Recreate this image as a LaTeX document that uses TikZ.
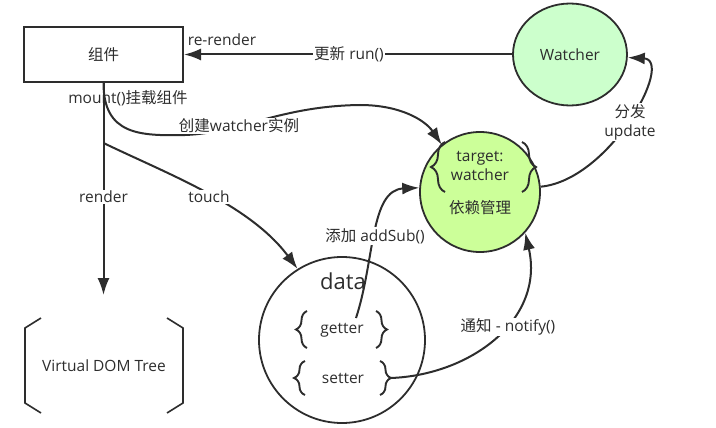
\documentclass[tikz,border=0pt]{standalone}
\usepackage{fontspec}
\setmainfont{Open Sans}
\newfontfamily\zhfont{Noto Sans CJK SC}
\usepackage{tikz}
\definecolor{inkgray}{RGB}{45,45,45}
\definecolor{watchgreen}{RGB}{204,255,204}
\definecolor{depgreen}{RGB}{204,255,153}
\usetikzlibrary{arrows.meta}
\usetikzlibrary{shapes.geometric}
\usetikzlibrary{decorations.pathreplacing}
\tikzset{line/.style={inkgray,line width=2pt,>={Latex[length=17pt,width=12pt]}}}
\tikzset{box/.style={rectangle,draw=inkgray,line width=2pt,minimum width=159pt,minimum height=55pt}}
\tikzset{ball/.style={circle,draw=inkgray,line width=1.8pt,inner sep=0pt}}
\tikzset{lbl/.style={fill=white,inner sep=1pt}}
\tikzset{txt/.style={inner sep=1pt}}
\tikzset{curly/.style={inkgray,line width=1.9pt,decorate,decoration={brace,amplitude=#1}}}
\tikzset{bracket/.style={inkgray,line width=1.6pt}}

\begin{document}
\begin{tikzpicture}[x=1pt,y=-1pt,every node/.style={font=\fontsize{15.5}{19}\selectfont,text=inkgray}]
  \useasboundingbox (0,0) rectangle (716,428);

  % Nodes
  \node[box] (comp) at (103.5,54.5) {\zhfont 组件};
  \node[ellipse,draw=inkgray,line width=1.8pt,fill=watchgreen,minimum width=114pt,minimum height=102pt] (watcher) at (570,54.5) {Watcher};
  \node[ball,fill=depgreen,minimum size=120pt] (dep) at (480,192) {};
  \node[txt,align=center] (target) at (480,166) {target:\\watcher};
  \node[txt] (deplbl) at (480,208) {\zhfont 依赖管理};
  \node[ball,minimum size=166pt] (data) at (342,340) {};
  \node[txt,font=\fontsize{22}{26}\selectfont] (datalbl) at (343,281) {data};
  \node[txt] (getter) at (342,330) {getter};
  \node[txt] (setter) at (343,378) {setter};
  \node[txt,minimum width=158pt,minimum height=95pt] (vdom) at (104,365.5) {Virtual DOM Tree};

  % Braces
  \draw[curly=14] (445,192) -- (445,142);
  \draw[curly=14] (522,142) -- (522,192);
  \draw[curly=11] (307,348) -- (307,311);
  \draw[curly=11] (376,311) -- (376,348);
  \draw[curly=11] (305,395) -- (305,361);
  \draw[curly=11] (380,361) -- (380,395);

  % Brackets
  \draw[bracket] (41,318) -- (25,328) -- (25,403) -- (41,413);
  \draw[bracket] (167,318) -- (183,328) -- (183,403) -- (167,413);

  \coordinate (vtop) at (103.5,295);
  \coordinate (branch) at (103.5,143);
  \coordinate (getT) at (356,318);
  \coordinate (setR) at (391,378);

  % Connectors
  \draw[line,->] (watcher.west) -- (comp.east);
  \draw[line,->] (comp.south) -- (vtop);
  \draw[line,->] (comp.south) .. controls (103.5,135) and (140,136) .. (185,135)
    .. controls (240,133) and (280,106) .. (360,105)
    .. controls (400,105) and (425,120) .. (dep.129);
  \draw[line,->] (branch) .. controls (170,175) and (250,205) .. (data.122);
  \draw[line,->] (getT) .. controls (375,260) and (370,190) .. (dep.176);
  \draw[line,->] (setR) .. controls (470,375) and (545,320) .. (dep.-42);
  \draw[line,->] (dep.5) .. controls (610,180) and (675,60) .. (watcher.-3);

  % Labels
  \node[txt] (rerender) at (222,40) {re-render};
  \node[lbl] (run) at (349,54) {{\zhfont 更新} run()};
  \node[txt] (mount) at (128,98) {mount()\zhfont 挂载组件};
  \node[lbl] (create) at (239,126) {{\zhfont 创建}watcher{\zhfont 实例}};
  \node[lbl] (render) at (103.5,197) {render};
  \node[lbl] (touch) at (209,197) {touch};
  \node[lbl] (addsub) at (375,236) {{\zhfont 添加} addSub()};
  \node[lbl] (notify) at (508,327) {{\zhfont 通知} - notify()};
  \node[lbl,align=center] (update) at (630,122) {{\zhfont 分发}\\update};
\end{tikzpicture}
\end{document}
